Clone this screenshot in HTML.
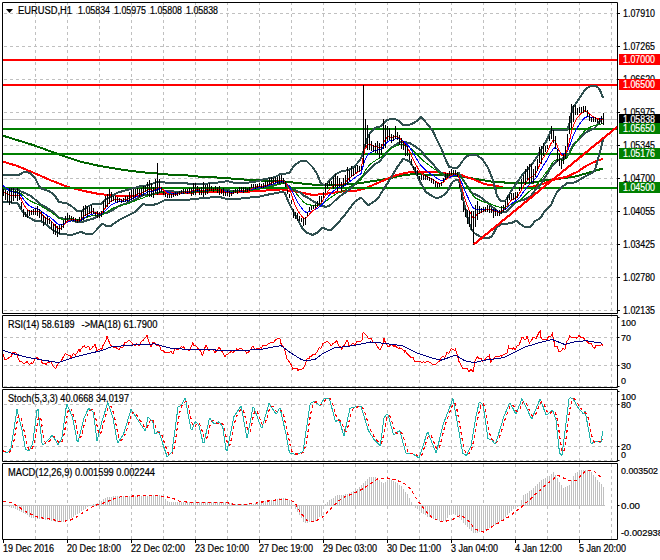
<!DOCTYPE html><html><head><meta charset="utf-8"><style>html,body{margin:0;padding:0;background:#fff;overflow:hidden}svg{display:block}</style></head><body><svg width="660" height="560" viewBox="0 0 660 560" font-family="'Liberation Sans', sans-serif">
<rect width="660" height="560" fill="#fff"/>
<path d="M35.5,2V539 M67.5,2V539 M99.5,2V539 M131.5,2V539 M163.5,2V539 M195.5,2V539 M227.5,2V539 M259.5,2V539 M291.5,2V539 M323.5,2V539 M355.5,2V539 M387.5,2V539 M419.5,2V539 M451.5,2V539 M483.5,2V539 M515.5,2V539 M547.5,2V539 M579.5,2V539 M611.5,2V539 M4,13.5H617 M4,46.5H617 M4,79.5H617 M4,112.5H617 M4,145.5H617 M4,178.5H617 M4,211.5H617 M4,244.5H617 M4,277.5H617 M4,310.5H617 M4,337.5H617 M4,365.5H617 M4,386.5H617 M4,404.5H617 M4,446.5H617 M4,460.5H617" stroke="#c0c0c0" stroke-width="1" stroke-dasharray="3 3" fill="none"/>
<g clip-path="url(#cm)">
<defs><clipPath id="cm"><rect x="3" y="3" width="614" height="310"/></clipPath><clipPath id="c1"><rect x="3" y="316" width="614" height="71"/></clipPath><clipPath id="c2"><rect x="3" y="390" width="614" height="71"/></clipPath><clipPath id="c3"><rect x="3" y="464" width="614" height="75"/></clipPath></defs>
<line x1="3" y1="119.5" x2="617" y2="119.5" stroke="#c0c0c0" stroke-width="1"/>
<polyline points="3.0,135.7 33.0,145.0 59.0,154.4 79.0,161.3 98.0,165.6 123.5,170.0 143.0,172.3 160.0,173.8 175.0,175.2 185.0,175.2 200.0,176.7 215.0,177.4 231.0,178.5 246.0,179.7 261.0,180.5 284.0,181.4 297.0,183.0 313.0,184.6 345.0,184.6 355.0,183.8 371.0,181.4 387.0,178.9 400.0,175.7 413.0,174.1 438.0,175.0 455.0,175.7 474.0,178.6 495.0,182.1 516.0,183.0 531.0,183.0 545.0,180.4 557.0,179.0 575.0,176.5 589.0,172.7 603.0,168.5" fill="none" stroke="#006400" stroke-width="2" shape-rendering="crispEdges"/>
<polyline points="3.0,161.7 17.0,165.8 33.0,172.5 50.0,180.0 67.0,186.7 83.0,190.8 100.0,194.2 120.0,195.8 136.0,195.8 151.0,194.5 166.0,193.5 185.0,192.6 215.0,192.3 246.0,191.8 261.0,190.8 270.0,190.3 281.0,189.4 297.0,191.8 313.0,195.0 329.0,193.4 345.0,191.0 355.0,191.0 365.0,188.6 374.0,184.6 387.0,178.9 397.0,174.9 408.0,172.5 420.0,171.8 438.0,172.3 446.0,173.5 461.0,175.0 474.0,179.5 484.0,183.9 499.0,186.6 506.0,188.4 516.0,188.4 527.0,187.5 538.0,185.7 548.0,182.0 556.0,179.0 567.0,176.8 578.0,171.4 586.0,166.0 594.0,162.0 603.0,158.7" fill="none" stroke="#ff0000" stroke-width="2" shape-rendering="crispEdges"/>
<rect x="3" y="59.0" width="614" height="2" fill="#ff0000"/>
<rect x="3" y="84.0" width="614" height="2" fill="#ff0000"/>
<rect x="3" y="128.0" width="614" height="2" fill="#008000"/>
<rect x="3" y="153.0" width="614" height="2" fill="#008000"/>
<rect x="3" y="187.0" width="614" height="2" fill="#008000"/>
<polyline points="3.0,175.3 5.0,175.2 7.0,175.2 9.0,175.1 11.0,175.0 13.0,174.9 15.0,174.9 17.0,174.8 19.0,174.7 21.0,173.7 23.0,172.4 25.0,171.9 27.0,172.3 29.0,172.6 31.0,173.7 33.0,175.9 35.0,178.1 37.0,181.9 39.0,186.0 41.0,188.3 43.0,189.0 45.0,189.7 47.0,190.4 49.0,191.1 51.0,192.4 53.0,193.9 55.0,196.0 57.0,199.0 59.0,202.0 61.0,202.4 63.0,202.7 65.0,203.1 67.0,203.6 69.0,204.7 71.0,205.7 73.0,207.4 75.0,209.2 77.0,210.9 79.0,211.2 81.0,211.2 83.0,210.4 85.0,208.7 87.0,207.0 89.0,206.0 91.0,204.9 93.0,203.9 95.0,204.1 97.0,204.2 99.0,204.4 101.0,203.9 103.0,202.0 105.0,200.2 107.0,198.9 109.0,197.7 111.0,196.5 113.0,195.3 115.0,194.1 117.0,192.9 119.0,192.2 121.0,191.7 123.0,191.1 125.0,190.5 127.0,190.0 129.0,189.4 131.0,188.9 133.0,188.3 135.0,187.7 137.0,187.2 139.0,186.6 141.0,186.3 143.0,186.0 145.0,185.6 147.0,185.3 149.0,184.8 151.0,184.1 153.0,183.4 155.0,182.7 157.0,182.1 159.0,182.2 161.0,182.3 163.0,182.4 165.0,182.5 167.0,182.6 169.0,182.7 171.0,182.7 173.0,182.8 175.0,182.8 177.0,182.8 179.0,182.9 181.0,182.9 183.0,183.0 185.0,183.0 187.0,183.4 189.0,183.8 191.0,184.2 193.0,184.2 195.0,184.2 197.0,184.2 199.0,184.2 201.0,184.1 203.0,184.0 205.0,183.8 207.0,183.6 209.0,183.4 211.0,183.2 213.0,183.0 215.0,182.8 217.0,182.6 219.0,182.3 221.0,182.1 223.0,181.8 225.0,181.5 227.0,181.3 229.0,181.5 231.0,182.0 233.0,182.5 235.0,182.7 237.0,182.8 239.0,182.8 241.0,182.9 243.0,182.9 245.0,183.0 247.0,182.8 249.0,182.5 251.0,182.1 253.0,181.8 255.0,181.6 257.0,181.3 259.0,180.9 261.0,180.2 263.0,179.6 265.0,179.0 267.0,178.6 269.0,178.3 271.0,177.9 273.0,177.6 275.0,177.1 277.0,176.0 279.0,174.9 281.0,173.8 283.0,173.7 285.0,173.6 287.0,173.4 289.0,173.3 291.0,170.4 293.0,167.4 295.0,165.1 297.0,163.6 299.0,162.0 301.0,160.9 303.0,161.1 305.0,161.2 307.0,161.5 309.0,163.5 311.0,165.5 313.0,167.5 315.0,170.7 317.0,174.0 319.0,178.4 321.0,183.8 323.0,184.6 325.0,184.6 327.0,183.6 329.0,181.2 331.0,178.9 333.0,176.9 335.0,174.8 337.0,173.5 339.0,172.5 341.0,171.5 343.0,170.8 345.0,170.6 347.0,170.3 349.0,169.8 351.0,168.6 353.0,167.3 355.0,166.0 357.0,163.5 359.0,161.0 361.0,158.5 363.0,152.6 365.0,145.9 367.0,139.1 369.0,134.7 371.0,132.2 373.0,129.6 375.0,127.8 377.0,127.3 379.0,126.8 381.0,126.1 383.0,124.1 385.0,122.2 387.0,120.2 389.0,119.5 391.0,119.1 393.0,118.6 395.0,119.1 397.0,120.1 399.0,121.1 401.0,122.6 403.0,124.6 405.0,124.8 407.0,124.8 409.0,124.8 411.0,124.1 413.0,123.2 415.0,122.2 417.0,120.8 419.0,118.9 421.0,117.2 423.0,119.2 425.0,121.3 427.0,123.6 429.0,126.1 431.0,128.5 433.0,131.5 435.0,135.7 437.0,139.9 439.0,144.0 441.0,148.0 443.0,152.8 445.0,158.2 447.0,162.4 449.0,166.7 451.0,167.4 453.0,167.6 455.0,167.7 457.0,167.8 459.0,166.2 461.0,163.2 463.0,160.5 465.0,158.3 467.0,156.1 469.0,155.4 471.0,155.3 473.0,155.2 475.0,155.1 477.0,155.5 479.0,156.8 481.0,158.0 483.0,160.4 485.0,163.2 487.0,166.1 489.0,170.2 491.0,175.0 493.0,180.6 495.0,187.3 497.0,195.7 499.0,199.0 501.0,200.7 503.0,200.7 505.0,200.7 507.0,198.3 509.0,194.7 511.0,191.4 513.0,188.4 515.0,185.5 517.0,182.5 519.0,179.6 521.0,176.7 523.0,174.0 525.0,171.8 527.0,169.7 529.0,167.5 531.0,165.0 533.0,162.6 535.0,159.9 537.0,156.7 539.0,153.5 541.0,150.1 543.0,146.7 545.0,143.2 547.0,139.6 549.0,135.4 551.0,130.0 553.0,130.0 555.0,130.0 557.0,130.0 559.0,130.0 561.0,130.0 563.0,130.0 565.0,130.0 567.0,130.0 569.0,125.5 571.0,115.0 573.0,107.0 575.0,104.5 577.0,101.9 579.0,98.9 581.0,95.9 583.0,92.8 585.0,90.1 587.0,88.1 589.0,87.0 591.0,86.2 593.0,85.9 595.0,85.8 597.0,86.6 599.0,88.5 601.0,92.3 603.0,97.8" fill="none" stroke="#2f4f4f" stroke-width="2" shape-rendering="crispEdges"/>
<polyline points="3.0,202.0 5.0,202.1 7.0,202.3 9.0,202.4 11.0,202.5 13.0,202.7 15.0,202.9 17.0,203.1 19.0,205.3 21.0,209.4 23.0,212.2 25.0,214.1 27.0,216.1 29.0,217.6 31.0,218.6 33.0,219.7 35.0,220.7 37.0,220.5 39.0,220.6 41.0,221.6 43.0,222.6 45.0,223.7 47.0,225.3 49.0,227.0 51.0,228.6 53.0,230.2 55.0,231.6 57.0,232.6 59.0,233.6 61.0,234.2 63.0,234.3 65.0,234.4 67.0,234.5 69.0,234.6 71.0,234.7 73.0,234.6 75.0,233.9 77.0,233.2 79.0,232.5 81.0,231.8 83.0,232.8 85.0,233.6 87.0,233.6 89.0,233.6 91.0,233.6 93.0,233.6 95.0,231.5 97.0,229.4 99.0,227.2 101.0,225.1 103.0,223.6 105.0,225.2 107.0,226.4 109.0,226.4 111.0,225.7 113.0,224.2 115.0,222.8 117.0,221.4 119.0,220.0 121.0,219.0 123.0,218.0 125.0,217.0 127.0,216.0 129.0,215.0 131.0,214.0 133.0,213.0 135.0,212.0 137.0,210.3 139.0,208.3 141.0,206.2 143.0,204.2 145.0,204.5 147.0,205.0 149.0,205.5 151.0,205.2 153.0,204.8 155.0,204.4 157.0,203.9 159.0,202.9 161.0,201.9 163.0,200.9 165.0,199.9 167.0,199.6 169.0,199.8 171.0,199.9 173.0,200.1 175.0,200.3 177.0,200.3 179.0,200.3 181.0,200.2 183.0,200.2 185.0,200.2 187.0,199.9 189.0,199.7 191.0,199.4 193.0,199.2 195.0,198.9 197.0,198.6 199.0,198.5 201.0,198.3 203.0,198.1 205.0,198.0 207.0,197.8 209.0,197.6 211.0,197.4 213.0,197.1 215.0,196.9 217.0,196.6 219.0,196.6 221.0,197.3 223.0,198.1 225.0,198.6 227.0,198.8 229.0,199.0 231.0,199.2 233.0,199.3 235.0,199.2 237.0,199.0 239.0,198.7 241.0,198.5 243.0,198.2 245.0,198.0 247.0,197.8 249.0,197.6 251.0,197.4 253.0,197.2 255.0,197.0 257.0,196.8 259.0,196.6 261.0,196.4 263.0,195.9 265.0,195.3 267.0,194.8 269.0,194.4 271.0,194.1 273.0,193.7 275.0,193.3 277.0,192.9 279.0,192.5 281.0,192.1 283.0,191.8 285.0,193.2 287.0,198.2 289.0,203.0 291.0,207.0 293.0,211.0 295.0,214.7 297.0,218.2 299.0,221.8 301.0,225.8 303.0,229.2 305.0,231.2 307.0,232.8 309.0,233.6 311.0,234.4 313.0,234.8 315.0,233.8 317.0,232.8 319.0,231.0 321.0,229.0 323.0,227.7 325.0,228.7 327.0,229.6 329.0,230.5 331.0,230.1 333.0,228.2 335.0,226.3 337.0,224.1 339.0,221.8 341.0,219.4 343.0,217.1 345.0,214.8 347.0,212.1 349.0,209.5 351.0,206.8 353.0,204.1 355.0,201.4 357.0,200.2 359.0,198.9 361.0,197.7 363.0,199.4 365.0,201.9 367.0,204.4 369.0,204.8 371.0,203.5 373.0,202.2 375.0,200.7 377.0,198.7 379.0,196.7 381.0,193.4 383.0,190.1 385.0,187.0 387.0,184.0 389.0,181.0 391.0,177.8 393.0,174.3 395.0,170.8 397.0,167.4 399.0,164.6 401.0,161.9 403.0,159.1 405.0,159.5 407.0,160.3 409.0,161.0 411.0,163.5 413.0,166.8 415.0,170.5 417.0,175.1 419.0,179.8 421.0,183.5 423.0,187.0 425.0,190.6 427.0,192.7 429.0,194.0 431.0,195.3 433.0,196.4 435.0,197.6 437.0,198.2 439.0,197.6 441.0,197.0 443.0,195.6 445.0,193.6 447.0,191.6 449.0,188.6 451.0,184.2 453.0,181.5 455.0,180.5 457.0,179.4 459.0,180.5 461.0,189.8 463.0,199.0 465.0,207.4 467.0,215.7 469.0,222.2 471.0,228.7 473.0,231.6 475.0,233.4 477.0,234.7 479.0,235.9 481.0,236.9 483.0,237.9 485.0,238.5 487.0,238.0 489.0,237.6 491.0,237.2 493.0,234.2 495.0,230.6 497.0,227.0 499.0,225.8 501.0,224.5 503.0,224.1 505.0,223.8 507.0,223.6 509.0,223.4 511.0,223.2 513.0,222.2 515.0,221.2 517.0,221.0 519.0,222.8 521.0,224.5 523.0,226.3 525.0,226.8 527.0,226.8 529.0,226.8 531.0,226.4 533.0,223.7 535.0,221.0 537.0,220.0 539.0,219.0 541.0,217.3 543.0,213.9 545.0,211.0 547.0,209.0 549.0,206.9 551.0,204.9 553.0,200.4 555.0,195.9 557.0,192.2 559.0,190.2 561.0,188.3 563.0,186.4 565.0,184.7 567.0,182.9 569.0,182.8 571.0,182.8 573.0,182.8 575.0,182.2 577.0,181.2 579.0,180.2 581.0,179.0 583.0,177.7 585.0,176.5 587.0,175.5 589.0,174.5 591.0,173.5 593.0,172.3 595.0,170.1 597.0,162.8 599.0,154.9 601.0,148.9 603.0,139.1" fill="none" stroke="#2f4f4f" stroke-width="2" shape-rendering="crispEdges"/>
<polyline points="3.0,188.7 5.0,188.7 7.0,188.7 9.0,188.7 11.0,188.8 13.0,188.8 15.0,188.9 17.0,188.9 19.0,190.0 21.0,191.5 23.0,192.3 25.0,193.0 27.0,194.2 29.0,195.1 31.0,196.1 33.0,197.8 35.0,199.4 37.0,201.2 39.0,203.3 41.0,204.9 43.0,205.8 45.0,206.7 47.0,207.9 49.0,209.0 51.0,210.5 53.0,212.1 55.0,213.8 57.0,215.8 59.0,217.8 61.0,218.3 63.0,218.5 65.0,218.8 67.0,219.1 69.0,219.6 71.0,220.2 73.0,221.0 75.0,221.5 77.0,222.1 79.0,221.8 81.0,221.5 83.0,221.6 85.0,221.2 87.0,220.3 89.0,219.8 91.0,219.3 93.0,218.8 95.0,217.8 97.0,216.8 99.0,215.8 101.0,214.5 103.0,212.8 105.0,212.7 107.0,212.7 109.0,212.1 111.0,211.1 113.0,209.8 115.0,208.5 117.0,207.2 119.0,206.1 121.0,205.3 123.0,204.5 125.0,203.8 127.0,203.0 129.0,202.2 131.0,201.4 133.0,200.6 135.0,199.9 137.0,198.7 139.0,197.4 141.0,196.3 143.0,195.1 145.0,195.1 147.0,195.2 149.0,195.2 151.0,194.6 153.0,194.1 155.0,193.5 157.0,193.0 159.0,192.6 161.0,192.1 163.0,191.7 165.0,191.2 167.0,191.1 169.0,191.2 171.0,191.3 173.0,191.4 175.0,191.6 177.0,191.6 179.0,191.6 181.0,191.6 183.0,191.6 185.0,191.6 187.0,191.7 189.0,191.7 191.0,191.8 193.0,191.7 195.0,191.5 197.0,191.4 199.0,191.3 201.0,191.2 203.0,191.0 205.0,190.9 207.0,190.7 209.0,190.5 211.0,190.3 213.0,190.0 215.0,189.8 217.0,189.6 219.0,189.5 221.0,189.7 223.0,189.9 225.0,190.1 227.0,190.0 229.0,190.3 231.0,190.6 233.0,190.9 235.0,191.0 237.0,190.9 239.0,190.8 241.0,190.7 243.0,190.6 245.0,190.5 247.0,190.3 249.0,190.0 251.0,189.8 253.0,189.5 255.0,189.3 257.0,189.1 259.0,188.7 261.0,188.3 263.0,187.7 265.0,187.2 267.0,186.7 269.0,186.4 271.0,186.0 273.0,185.6 275.0,185.2 277.0,184.5 279.0,183.7 281.0,183.0 283.0,182.7 285.0,183.4 287.0,185.8 289.0,188.2 291.0,188.7 293.0,189.2 295.0,189.9 297.0,190.9 299.0,191.9 301.0,193.3 303.0,195.2 305.0,196.2 307.0,197.2 309.0,198.6 311.0,199.9 313.0,201.1 315.0,202.2 317.0,203.4 319.0,204.7 321.0,206.4 323.0,206.2 325.0,206.6 327.0,206.6 329.0,205.9 331.0,204.5 333.0,202.5 335.0,200.5 337.0,198.8 339.0,197.1 341.0,195.5 343.0,193.9 345.0,192.7 347.0,191.2 349.0,189.7 351.0,187.7 353.0,185.7 355.0,183.7 357.0,181.8 359.0,179.9 361.0,178.1 363.0,176.0 365.0,173.9 367.0,171.8 369.0,169.8 371.0,167.8 373.0,165.9 375.0,164.3 377.0,163.0 379.0,161.8 381.0,159.8 383.0,157.1 385.0,154.6 387.0,152.1 389.0,150.3 391.0,148.4 393.0,146.4 395.0,145.0 397.0,143.8 399.0,142.9 401.0,142.2 403.0,141.8 405.0,142.1 407.0,142.5 409.0,142.9 411.0,143.8 413.0,145.0 415.0,146.3 417.0,147.9 419.0,149.3 421.0,150.4 423.0,153.1 425.0,155.9 427.0,158.1 429.0,160.1 431.0,161.9 433.0,163.9 435.0,166.6 437.0,169.1 439.0,170.8 441.0,172.5 443.0,174.2 445.0,175.9 447.0,177.0 449.0,177.6 451.0,175.8 453.0,174.5 455.0,174.1 457.0,173.6 459.0,173.3 461.0,176.5 463.0,179.8 465.0,182.8 467.0,185.9 469.0,188.8 471.0,192.0 473.0,193.4 475.0,194.2 477.0,195.1 479.0,196.3 481.0,197.4 483.0,199.2 485.0,200.8 487.0,202.1 489.0,203.9 491.0,206.1 493.0,207.4 495.0,208.9 497.0,211.3 499.0,212.4 501.0,212.6 503.0,212.4 505.0,212.3 507.0,211.0 509.0,209.1 511.0,207.3 513.0,205.3 515.0,203.3 517.0,201.8 519.0,201.2 521.0,200.6 523.0,200.1 525.0,199.3 527.0,198.2 529.0,197.2 531.0,195.7 533.0,193.1 535.0,190.4 537.0,188.3 539.0,186.2 541.0,183.7 543.0,180.3 545.0,177.1 547.0,174.3 549.0,171.1 551.0,167.4 553.0,165.2 555.0,163.0 557.0,161.1 559.0,160.1 561.0,159.1 563.0,158.2 565.0,157.3 567.0,156.4 569.0,154.1 571.0,148.9 573.0,144.9 575.0,143.3 577.0,141.5 579.0,139.5 581.0,137.4 583.0,135.3 585.0,133.3 587.0,131.8 589.0,130.7 591.0,129.9 593.0,129.1 595.0,127.9 597.0,124.7 599.0,121.7 601.0,120.6 603.0,118.4" fill="none" stroke="#2f4f4f" stroke-width="2" shape-rendering="crispEdges"/>
<polyline points="3.0,188.5 5.0,189.1 7.0,189.7 9.0,190.5 11.0,191.0 13.0,191.4 15.0,191.7 17.0,192.0 19.0,192.4 21.0,193.6 23.0,195.3 25.0,197.1 27.0,198.7 29.0,200.1 31.0,201.3 33.0,202.3 35.0,203.2 37.0,203.9 39.0,204.8 41.0,205.9 43.0,207.3 45.0,208.6 47.0,209.7 49.0,210.9 51.0,212.1 53.0,213.6 55.0,215.2 57.0,216.8 59.0,218.0 61.0,218.9 63.0,219.3 65.0,219.3 67.0,219.1 69.0,218.9 71.0,218.9 73.0,219.0 75.0,219.1 77.0,219.2 79.0,219.3 81.0,219.1 83.0,218.5 85.0,217.9 87.0,217.3 89.0,216.7 91.0,216.1 93.0,215.6 95.0,215.4 97.0,215.4 99.0,215.4 101.0,215.1 103.0,214.3 105.0,213.2 107.0,211.9 109.0,210.6 111.0,209.3 113.0,208.2 115.0,207.3 117.0,206.6 119.0,206.0 121.0,205.5 123.0,204.9 125.0,204.4 127.0,203.9 129.0,203.2 131.0,202.4 133.0,201.6 135.0,200.8 137.0,200.0 139.0,199.3 141.0,198.6 143.0,197.9 145.0,197.1 147.0,196.2 149.0,195.5 151.0,195.0 153.0,194.6 155.0,194.0 157.0,193.1 159.0,192.3 161.0,192.1 163.0,192.2 165.0,192.5 167.0,192.9 169.0,193.2 171.0,193.4 173.0,193.6 175.0,193.6 177.0,193.6 179.0,193.5 181.0,193.4 183.0,193.3 185.0,193.0 187.0,192.8 189.0,192.6 191.0,192.4 193.0,192.1 195.0,191.8 197.0,191.6 199.0,191.5 201.0,191.5 203.0,191.5 205.0,191.3 207.0,191.1 209.0,190.8 211.0,190.6 213.0,190.5 215.0,190.3 217.0,190.2 219.0,190.2 221.0,190.4 223.0,190.7 225.0,190.9 227.0,191.2 229.0,191.4 231.0,191.7 233.0,191.8 235.0,191.8 237.0,191.7 239.0,191.5 241.0,191.3 243.0,191.2 245.0,191.1 247.0,191.0 249.0,190.9 251.0,190.5 253.0,190.0 255.0,189.6 257.0,189.3 259.0,189.0 261.0,188.7 263.0,188.4 265.0,188.0 267.0,187.6 269.0,187.1 271.0,186.6 273.0,186.0 275.0,185.4 277.0,184.9 279.0,184.4 281.0,183.9 283.0,183.7 285.0,183.7 287.0,184.5 289.0,185.6 291.0,187.1 293.0,189.5 295.0,192.0 297.0,194.5 299.0,196.8 301.0,199.1 303.0,201.4 305.0,203.2 307.0,204.2 309.0,204.7 311.0,205.1 313.0,205.3 315.0,205.3 317.0,205.2 319.0,204.7 321.0,204.1 323.0,203.2 325.0,201.8 327.0,200.3 329.0,198.7 331.0,197.3 333.0,195.9 335.0,194.6 337.0,193.5 339.0,192.6 341.0,191.9 343.0,191.2 345.0,190.1 347.0,188.8 349.0,187.4 351.0,186.1 353.0,184.8 355.0,183.5 357.0,182.2 359.0,180.9 361.0,179.7 363.0,175.4 365.0,171.2 367.0,168.0 369.0,165.6 371.0,163.7 373.0,162.2 375.0,160.8 377.0,159.4 379.0,158.5 381.0,157.6 383.0,155.5 385.0,153.3 387.0,151.3 389.0,149.7 391.0,148.7 393.0,147.7 395.0,146.4 397.0,145.4 399.0,144.9 401.0,144.8 403.0,144.9 405.0,145.4 407.0,146.1 409.0,147.1 411.0,148.5 413.0,150.4 415.0,152.4 417.0,154.4 419.0,156.6 421.0,158.6 423.0,160.5 425.0,162.1 427.0,163.6 429.0,165.1 431.0,166.6 433.0,168.0 435.0,169.5 437.0,171.0 439.0,172.4 441.0,173.4 443.0,174.1 445.0,174.3 447.0,174.3 449.0,174.2 451.0,174.1 453.0,173.9 455.0,173.8 457.0,173.9 459.0,175.1 461.0,177.2 463.0,180.1 465.0,183.2 467.0,186.4 469.0,189.5 471.0,192.7 473.0,195.7 475.0,197.7 477.0,198.7 479.0,199.8 481.0,200.8 483.0,201.6 485.0,202.3 487.0,202.9 489.0,203.5 491.0,204.2 493.0,205.0 495.0,205.8 497.0,206.5 499.0,207.0 501.0,207.3 503.0,207.3 505.0,207.1 507.0,206.5 509.0,205.6 511.0,204.7 513.0,203.9 515.0,203.1 517.0,202.2 519.0,201.0 521.0,199.4 523.0,197.5 525.0,195.5 527.0,193.5 529.0,191.7 531.0,190.1 533.0,188.6 535.0,186.9 537.0,184.7 539.0,182.1 541.0,179.4 543.0,176.7 545.0,174.0 547.0,171.4 549.0,168.3 551.0,165.1 553.0,162.2 555.0,160.3 557.0,159.6 559.0,159.7 561.0,160.0 563.0,160.0 565.0,159.2 567.0,157.6 569.0,154.8 571.0,151.1 573.0,147.4 575.0,144.0 577.0,140.9 579.0,138.0 581.0,135.3 583.0,132.7 585.0,130.4 587.0,128.8 589.0,127.7 591.0,126.8 593.0,126.1 595.0,125.5 597.0,125.0 599.0,124.6 601.0,124.1 603.0,123.6" fill="none" stroke="#008000" stroke-width="1" shape-rendering="crispEdges"/>
<polyline points="3.0,185.5 5.0,187.1 7.0,188.7 9.0,190.4 11.0,191.5 13.0,192.0 15.0,192.5 17.0,192.9 19.0,193.5 21.0,195.6 23.0,198.6 25.0,201.3 27.0,203.6 29.0,205.4 31.0,206.8 33.0,207.7 35.0,208.3 37.0,208.8 39.0,209.6 41.0,210.9 43.0,212.6 45.0,214.1 47.0,215.3 49.0,216.4 51.0,217.9 53.0,219.6 55.0,221.5 57.0,223.4 59.0,224.7 61.0,225.0 63.0,224.6 65.0,223.7 67.0,222.5 69.0,221.5 71.0,221.0 73.0,220.8 75.0,220.7 77.0,220.7 79.0,220.5 81.0,219.9 83.0,218.7 85.0,217.4 87.0,216.4 89.0,215.4 91.0,214.5 93.0,213.9 95.0,213.9 97.0,214.0 99.0,214.3 101.0,214.0 103.0,212.7 105.0,210.9 107.0,208.8 109.0,206.8 111.0,205.0 113.0,203.8 115.0,202.9 117.0,202.3 119.0,201.9 121.0,201.7 123.0,201.4 125.0,201.0 127.0,200.6 129.0,199.9 131.0,198.9 133.0,198.1 135.0,197.2 137.0,196.4 139.0,195.7 141.0,195.0 143.0,194.2 145.0,193.4 147.0,192.4 149.0,191.7 151.0,191.4 153.0,191.3 155.0,190.9 157.0,189.6 159.0,188.8 161.0,189.0 163.0,189.8 165.0,190.8 167.0,191.8 169.0,192.6 171.0,193.1 173.0,193.5 175.0,193.6 177.0,193.6 179.0,193.5 181.0,193.2 183.0,193.0 185.0,192.6 187.0,192.3 189.0,192.0 191.0,191.7 193.0,191.3 195.0,190.9 197.0,190.6 199.0,190.6 201.0,190.8 203.0,190.9 205.0,190.7 207.0,190.3 209.0,189.9 211.0,189.7 213.0,189.7 215.0,189.5 217.0,189.5 219.0,189.6 221.0,190.0 223.0,190.6 225.0,191.1 227.0,191.6 229.0,192.0 231.0,192.3 233.0,192.4 235.0,192.3 237.0,192.0 239.0,191.5 241.0,191.2 243.0,191.0 245.0,190.9 247.0,190.8 249.0,190.5 251.0,189.8 253.0,189.1 255.0,188.5 257.0,188.1 259.0,187.7 261.0,187.4 263.0,187.0 265.0,186.6 267.0,186.0 269.0,185.4 271.0,184.7 273.0,183.9 275.0,183.2 277.0,182.6 279.0,182.1 281.0,181.6 283.0,181.5 285.0,182.0 287.0,183.9 289.0,186.0 291.0,188.9 293.0,193.1 295.0,197.2 297.0,201.0 299.0,204.3 301.0,207.2 303.0,210.1 305.0,211.9 307.0,212.3 309.0,211.9 311.0,211.3 313.0,210.5 315.0,209.6 317.0,208.6 319.0,207.1 321.0,205.5 323.0,203.5 325.0,200.7 327.0,198.0 329.0,195.5 331.0,193.3 333.0,191.5 335.0,189.8 337.0,188.5 339.0,187.7 341.0,187.2 343.0,186.7 345.0,185.5 347.0,183.8 349.0,182.2 351.0,180.6 353.0,179.1 355.0,177.6 357.0,176.2 359.0,174.9 361.0,173.6 363.0,166.5 365.0,160.1 367.0,156.0 369.0,153.6 371.0,152.3 373.0,151.4 375.0,150.6 377.0,149.9 379.0,149.8 381.0,149.8 383.0,147.2 385.0,144.5 387.0,142.3 389.0,140.9 391.0,140.5 393.0,140.2 395.0,139.0 397.0,138.4 399.0,138.7 401.0,139.6 403.0,140.9 405.0,142.5 407.0,144.3 409.0,146.6 411.0,149.4 413.0,152.8 415.0,156.1 417.0,159.4 419.0,162.7 421.0,165.4 423.0,167.7 425.0,169.5 427.0,171.1 429.0,172.6 431.0,174.0 433.0,175.4 435.0,176.9 437.0,178.5 439.0,179.6 441.0,180.3 443.0,180.3 445.0,179.6 447.0,178.7 449.0,177.7 451.0,176.8 453.0,176.0 455.0,175.4 457.0,175.3 459.0,177.3 461.0,181.0 463.0,185.8 465.0,190.6 467.0,195.4 469.0,199.8 471.0,204.0 473.0,207.6 475.0,209.2 477.0,209.2 479.0,209.3 481.0,209.5 483.0,209.5 485.0,209.4 487.0,209.2 489.0,209.1 491.0,209.4 493.0,210.1 495.0,210.7 497.0,211.0 499.0,211.2 501.0,211.0 503.0,210.4 505.0,209.4 507.0,207.8 509.0,205.9 511.0,204.1 513.0,202.6 515.0,201.4 517.0,200.0 519.0,198.0 521.0,195.6 523.0,192.6 525.0,189.7 527.0,187.0 529.0,184.8 531.0,183.0 533.0,181.3 535.0,179.3 537.0,176.6 539.0,173.2 541.0,169.6 543.0,166.1 545.0,163.0 547.0,160.1 549.0,156.2 551.0,152.3 553.0,149.1 555.0,147.7 557.0,148.8 559.0,150.9 561.0,153.1 563.0,154.3 565.0,153.8 567.0,151.8 569.0,147.4 571.0,141.7 573.0,136.4 575.0,131.9 577.0,128.2 579.0,124.9 581.0,122.1 583.0,119.6 585.0,117.6 587.0,116.8 589.0,116.9 591.0,117.2 593.0,117.6 595.0,118.0 597.0,118.4 599.0,118.8 601.0,119.0 603.0,119.0" fill="none" stroke="#0000ff" stroke-width="1" shape-rendering="crispEdges"/>
<polyline points="3.0,192.2 5.0,192.9 7.0,194.0 9.0,195.2 11.0,195.6 13.0,195.3 15.0,195.1 17.0,195.0 19.0,195.4 21.0,198.6 23.0,203.0 25.0,206.6 27.0,209.0 29.0,210.6 31.0,211.4 33.0,211.6 35.0,211.3 37.0,211.3 39.0,211.9 41.0,213.5 43.0,215.7 45.0,217.4 47.0,218.5 49.0,219.5 51.0,221.2 53.0,223.1 55.0,225.5 57.0,227.6 59.0,228.5 61.0,227.9 63.0,226.3 65.0,224.1 67.0,221.6 69.0,220.2 71.0,219.7 73.0,219.7 75.0,219.9 77.0,220.2 79.0,220.1 81.0,219.1 83.0,217.1 85.0,215.4 87.0,214.1 89.0,213.1 91.0,212.1 93.0,211.9 95.0,212.5 97.0,213.2 99.0,214.0 101.0,213.5 103.0,211.3 105.0,208.5 107.0,205.5 109.0,202.8 111.0,201.0 113.0,200.0 115.0,199.7 117.0,199.6 119.0,199.8 121.0,200.0 123.0,200.0 125.0,199.9 127.0,199.5 129.0,198.5 131.0,197.3 133.0,196.2 135.0,195.2 137.0,194.4 139.0,193.8 141.0,193.2 143.0,192.4 145.0,191.4 147.0,190.3 149.0,189.8 151.0,189.8 153.0,190.2 155.0,189.7 157.0,187.8 159.0,186.9 161.0,188.0 163.0,189.7 165.0,191.6 167.0,193.2 169.0,194.2 171.0,194.6 173.0,194.7 175.0,194.6 177.0,194.2 179.0,193.8 181.0,193.3 183.0,192.7 185.0,192.2 187.0,191.7 189.0,191.4 191.0,191.0 193.0,190.5 195.0,190.0 197.0,189.8 199.0,190.0 201.0,190.6 203.0,190.9 205.0,190.4 207.0,189.8 209.0,189.3 211.0,189.2 213.0,189.2 215.0,189.1 217.0,189.2 219.0,189.5 221.0,190.2 223.0,191.3 225.0,192.0 227.0,192.6 229.0,193.0 231.0,193.3 233.0,193.1 235.0,192.6 237.0,192.0 239.0,191.2 241.0,190.6 243.0,190.4 245.0,190.4 247.0,190.4 249.0,190.1 251.0,189.0 253.0,187.9 255.0,187.2 257.0,186.8 259.0,186.6 261.0,186.4 263.0,186.1 265.0,185.6 267.0,184.9 269.0,184.1 271.0,183.2 273.0,182.3 275.0,181.5 277.0,181.0 279.0,180.5 281.0,180.2 283.0,180.5 285.0,181.8 287.0,185.3 289.0,188.6 291.0,193.1 293.0,199.4 295.0,204.9 297.0,209.2 299.0,212.5 301.0,215.1 303.0,217.8 305.0,218.6 307.0,217.0 309.0,214.7 311.0,212.6 313.0,210.7 315.0,209.1 317.0,207.3 319.0,205.1 321.0,202.8 323.0,200.0 325.0,196.1 327.0,192.7 329.0,189.9 331.0,187.8 333.0,186.2 335.0,184.9 337.0,184.2 339.0,184.1 341.0,184.5 343.0,184.4 345.0,183.0 347.0,180.7 349.0,178.7 351.0,177.0 353.0,175.4 355.0,173.9 357.0,172.6 359.0,171.4 361.0,170.2 363.0,158.3 365.0,149.4 367.0,145.5 369.0,144.6 371.0,145.1 373.0,145.9 375.0,146.3 377.0,146.4 379.0,147.5 381.0,148.1 383.0,143.9 385.0,140.2 387.0,137.5 389.0,136.6 391.0,137.3 393.0,137.7 395.0,136.4 397.0,136.2 399.0,137.4 401.0,139.6 403.0,141.9 405.0,144.5 407.0,147.2 409.0,150.4 411.0,154.3 413.0,158.9 415.0,162.9 417.0,166.6 419.0,170.3 421.0,172.8 423.0,174.4 425.0,175.5 427.0,176.4 429.0,177.4 431.0,178.4 433.0,179.6 435.0,180.9 437.0,182.4 439.0,183.2 441.0,183.3 443.0,182.4 445.0,180.3 447.0,178.4 449.0,176.8 451.0,175.4 453.0,174.4 455.0,173.8 457.0,174.2 459.0,178.3 461.0,184.6 463.0,192.2 465.0,199.0 467.0,204.9 469.0,209.8 471.0,214.3 473.0,217.5 475.0,217.1 477.0,214.3 479.0,212.8 481.0,212.1 483.0,211.2 485.0,210.4 487.0,209.8 489.0,209.5 491.0,209.9 493.0,211.0 495.0,211.7 497.0,212.0 499.0,212.0 501.0,211.3 503.0,210.1 505.0,208.3 507.0,205.9 509.0,202.9 511.0,200.7 513.0,199.1 515.0,198.0 517.0,196.7 519.0,194.1 521.0,190.9 523.0,187.1 525.0,183.5 527.0,180.7 529.0,178.7 531.0,177.4 533.0,176.1 535.0,174.3 537.0,171.1 539.0,166.6 541.0,162.2 543.0,158.3 545.0,155.2 547.0,152.4 549.0,147.9 551.0,143.4 553.0,140.6 555.0,140.9 557.0,145.2 559.0,150.2 561.0,154.5 563.0,156.1 565.0,154.7 567.0,150.6 569.0,143.0 571.0,134.0 573.0,126.8 575.0,121.8 577.0,118.3 579.0,115.7 581.0,113.6 583.0,111.9 585.0,110.8 587.0,111.6 589.0,113.5 591.0,115.2 593.0,116.5 595.0,117.6 597.0,118.5 599.0,119.2 601.0,119.4 603.0,119.2" fill="none" stroke="#ff0000" stroke-width="1" shape-rendering="crispEdges"/>
<path d="M3.5,189V196 M5.5,190V200 M7.5,191V202 M9.5,188V205 M11.5,188V203 M13.5,188V201 M15.5,190V198 M17.5,188V201 M19.5,191V200 M21.5,202V209 M23.5,209V217 M25.5,212V217 M27.5,210V218 M29.5,210V216 M31.5,210V215 M33.5,209V215 M35.5,208V215 M37.5,206V216 M39.5,209V218 M41.5,211V221 M43.5,215V226 M45.5,217V224 M47.5,216V224 M49.5,218V224 M51.5,221V230 M53.5,224V234 M55.5,224V235 M57.5,226V237 M59.5,225V234 M61.5,224V230 M63.5,220V228 M65.5,216V223 M67.5,213V221 M69.5,215V219 M71.5,216V221 M73.5,217V221 M75.5,218V222 M77.5,219V223 M79.5,217V222 M81.5,211V221 M83.5,206V220 M85.5,205V216 M87.5,206V217 M89.5,207V214 M91.5,205V214 M93.5,208V214 M95.5,212V216 M97.5,211V218 M99.5,212V218 M101.5,211V217 M103.5,201V213 M105.5,196V208 M107.5,194V207 M109.5,189V204 M111.5,192V202 M113.5,196V201 M115.5,196V202 M117.5,197V203 M119.5,198V202 M121.5,199V203 M123.5,198V202 M125.5,196V202 M127.5,196V202 M129.5,192V201 M131.5,190V200 M133.5,189V199 M135.5,189V197 M137.5,188V195 M139.5,189V197 M141.5,188V196 M143.5,186V196 M145.5,186V192 M147.5,182V195 M149.5,180V197 M151.5,183V197 M153.5,187V198 M155.5,179V193 M157.5,163V195 M159.5,179V193 M161.5,187V192 M163.5,191V195 M165.5,193V197 M167.5,194V198 M169.5,194V198 M171.5,194V198 M173.5,193V197 M175.5,192V196 M177.5,192V196 M179.5,191V195 M181.5,190V194 M183.5,189V194 M185.5,189V193 M187.5,189V194 M189.5,188V193 M191.5,188V196 M193.5,183V195 M195.5,183V195 M197.5,186V192 M199.5,188V195 M201.5,187V195 M203.5,182V197 M205.5,185V195 M207.5,184V194 M209.5,183V191 M211.5,186V191 M213.5,188V192 M215.5,186V190 M217.5,187V193 M219.5,186V195 M221.5,189V194 M223.5,188V196 M225.5,192V196 M227.5,190V196 M229.5,191V197 M231.5,192V196 M233.5,190V194 M235.5,189V193 M237.5,189V194 M239.5,187V192 M241.5,187V192 M243.5,187V193 M245.5,187V192 M247.5,188V192 M249.5,187V191 M251.5,184V188 M253.5,184V188 M255.5,184V189 M257.5,184V188 M259.5,183V187 M261.5,184V188 M263.5,183V188 M265.5,181V187 M267.5,181V186 M269.5,178V185 M271.5,177V185 M273.5,178V184 M275.5,177V183 M277.5,177V184 M279.5,176V184 M281.5,175V183 M283.5,178V184 M285.5,181V187 M287.5,190V194 M289.5,194V198 M291.5,200V204 M293.5,209V218 M295.5,212V219 M297.5,213V221 M299.5,216V221 M301.5,218V222 M303.5,218V226 M305.5,217V225 M307.5,212V216 M309.5,207V211 M311.5,206V210 M313.5,205V209 M315.5,204V208 M317.5,201V207 M319.5,196V205 M321.5,196V202 M323.5,192V198 M325.5,183V193 M327.5,183V189 M329.5,181V186 M331.5,181V186 M333.5,177V189 M335.5,174V187 M337.5,176V191 M339.5,178V187 M341.5,182V191 M343.5,178V187 M345.5,175V185 M347.5,167V185 M349.5,170V181 M351.5,166V177 M353.5,168V176 M355.5,166V174 M357.5,165V172 M359.5,166V172 M361.5,166V170 M363.5,85V165 M365.5,119V147 M367.5,125V150 M369.5,134V150 M371.5,141V151 M373.5,145V152 M375.5,143V153 M377.5,141V154 M379.5,143V158 M381.5,144V155 M383.5,119V149 M385.5,125V148 M387.5,126V141 M389.5,128V140 M391.5,134V143 M393.5,135V141 M395.5,126V139 M397.5,132V140 M399.5,135V145 M401.5,138V149 M403.5,141V150 M405.5,144V156 M407.5,146V156 M409.5,154V160 M411.5,159V165 M413.5,166V170 M415.5,167V174 M417.5,170V176 M419.5,176V180 M421.5,175V180 M423.5,175V180 M425.5,175V180 M427.5,176V180 M429.5,177V181 M431.5,178V183 M433.5,179V184 M435.5,181V187 M437.5,183V188 M439.5,183V187 M441.5,182V186 M443.5,178V182 M445.5,173V180 M447.5,173V178 M449.5,171V176 M451.5,169V175 M453.5,170V175 M455.5,170V175 M457.5,172V177 M459.5,184V188 M461.5,194V200 M463.5,202V212 M465.5,208V217 M467.5,210V224 M469.5,211V227 M471.5,211V230 M473.5,211V245 M475.5,205V227 M477.5,201V220 M479.5,206V214 M481.5,208V213 M483.5,207V212 M485.5,207V212 M487.5,205V212 M489.5,206V213 M491.5,208V213 M493.5,209V218 M495.5,209V216 M497.5,210V216 M499.5,210V216 M501.5,206V214 M503.5,205V212 M505.5,201V210 M507.5,196V205 M509.5,194V200 M511.5,193V200 M513.5,193V200 M515.5,192V200 M517.5,192V198 M519.5,187V191 M521.5,179V189 M523.5,175V183 M525.5,169V185 M527.5,166V180 M529.5,164V183 M531.5,164V183 M533.5,169V183 M535.5,166V177 M537.5,159V171 M539.5,147V163 M541.5,146V164 M543.5,143V156 M545.5,146V152 M547.5,145V149 M549.5,136V141 M551.5,126V139 M553.5,130V143 M555.5,136V149 M557.5,149V162 M559.5,154V166 M561.5,159V169 M563.5,154V164 M565.5,146V159 M567.5,134V147 M569.5,116V134 M571.5,104V128 M573.5,105V122 M575.5,105V115 M577.5,108V115 M579.5,107V113 M581.5,107V113 M583.5,106V113 M585.5,106V112 M587.5,110V117 M589.5,114V121 M591.5,117V122 M593.5,117V122 M595.5,117V122 M597.5,119V123 M599.5,118V124 M601.5,116V124 M603.5,113V125" stroke="#000" stroke-width="1" fill="none"/>
<line x1="473.6" y1="244.6" x2="617" y2="127" stroke="#ff0000" stroke-width="2.2" shape-rendering="crispEdges"/>
</g>
<path d="M6,9H13L9.5,13Z" fill="#000"/>
<text x="18" y="14" font-size="10" fill="#000" stroke="#000" stroke-width="0.2" text-anchor="start" textLength="54" lengthAdjust="spacingAndGlyphs">EURUSD,H1</text>
<text x="78" y="14" font-size="10" fill="#000" stroke="#000" stroke-width="0.2" text-anchor="start" textLength="32" lengthAdjust="spacingAndGlyphs">1.05834</text>
<text x="114" y="14" font-size="10" fill="#000" stroke="#000" stroke-width="0.2" text-anchor="start" textLength="32" lengthAdjust="spacingAndGlyphs">1.05975</text>
<text x="150" y="14" font-size="10" fill="#000" stroke="#000" stroke-width="0.2" text-anchor="start" textLength="32" lengthAdjust="spacingAndGlyphs">1.05808</text>
<text x="186" y="14" font-size="10" fill="#000" stroke="#000" stroke-width="0.2" text-anchor="start" textLength="32" lengthAdjust="spacingAndGlyphs">1.05838</text>
<g clip-path="url(#c1)">
<polyline points="3.0,354.0 5.0,359.7 6.0,359.0 7.0,359.1 9.0,357.6 11.0,356.5 13.0,352.6 15.0,353.1 15.8,352.9 17.0,355.3 19.0,360.3 19.4,361.4 21.0,361.4 23.0,363.1 24.2,363.8 25.0,363.0 27.0,361.6 29.0,364.2 31.0,363.8 31.5,362.6 33.0,363.3 35.0,359.2 36.4,357.7 37.0,357.6 39.0,359.0 41.0,359.2 41.2,361.4 43.0,364.0 45.0,362.8 46.0,365.0 47.0,362.7 49.0,362.6 51.0,361.4 53.0,366.3 55.0,367.7 55.8,368.6 57.0,365.5 59.0,362.9 60.6,361.4 61.0,361.6 63.0,357.6 65.0,353.8 65.5,354.0 67.0,354.1 69.0,355.9 70.3,355.3 71.0,357.9 73.0,353.7 75.0,354.5 75.2,355.3 77.0,352.9 79.0,349.3 80.0,351.7 81.0,349.2 83.0,346.6 84.8,345.6 85.0,347.2 87.0,347.0 89.0,346.6 89.7,349.2 91.0,349.1 93.0,346.3 94.5,345.6 95.0,344.3 97.0,350.5 99.0,349.2 101.0,348.7 101.8,349.2 103.0,345.4 105.0,342.1 106.7,338.3 107.0,335.8 109.0,341.4 111.0,346.2 111.5,345.6 113.0,347.1 115.0,347.9 116.4,346.8 117.0,348.4 119.0,349.4 121.0,346.5 121.2,348.0 123.0,347.3 125.0,341.8 126.0,343.2 127.0,342.2 129.0,340.0 131.0,342.0 133.0,344.4 135.0,345.7 135.8,344.4 137.0,343.8 139.0,345.9 140.6,343.2 141.0,341.8 143.0,340.5 145.0,338.1 146.7,335.9 147.0,335.2 149.0,341.9 150.3,344.4 151.0,346.7 153.0,342.4 155.0,343.2 157.0,345.9 159.0,346.0 159.8,346.8 161.0,350.3 163.0,350.6 164.7,351.7 165.0,352.6 167.0,352.9 169.0,352.7 171.0,350.9 172.0,352.9 173.0,353.9 175.0,348.8 176.8,349.2 177.0,349.4 179.0,349.3 181.0,346.7 183.0,347.3 184.0,346.8 185.0,349.1 187.0,349.0 189.0,350.5 191.0,347.3 193.0,342.6 193.8,345.6 195.0,345.2 197.0,347.2 198.6,349.2 199.0,349.2 201.0,351.9 202.3,355.3 203.0,354.0 205.0,347.5 206.0,345.6 207.0,346.9 209.0,350.7 209.5,350.5 211.0,349.2 213.0,349.6 215.0,352.5 217.0,350.5 218.0,349.2 219.0,347.5 220.5,349.2 221.0,349.7 223.0,353.1 225.0,356.5 225.3,355.3 227.0,354.7 229.0,352.8 230.2,352.9 231.0,351.5 233.0,352.3 235.0,350.8 237.0,348.7 237.4,349.2 239.0,349.0 241.0,348.7 242.3,349.2 243.0,350.7 245.0,350.4 247.0,353.5 247.1,352.9 249.0,351.6 251.0,348.7 252.0,346.8 253.0,346.2 255.0,350.0 256.8,349.2 257.0,348.3 259.0,349.2 261.0,347.2 261.7,348.0 263.0,344.9 265.0,346.1 267.0,344.9 269.0,343.2 271.0,342.6 273.0,342.6 273.8,342.0 275.0,340.4 277.0,339.1 279.0,338.6 279.8,338.3 281.0,343.5 283.0,346.7 283.5,346.8 285.0,351.2 287.0,359.3 287.1,358.9 289.0,361.3 291.0,364.5 293.0,369.4 293.2,368.6 295.0,368.8 297.0,368.3 298.0,371.0 299.0,369.3 301.0,369.6 302.9,368.6 303.0,368.5 305.0,365.3 306.5,360.2 307.0,358.7 309.0,358.5 310.0,356.5 311.0,356.5 313.0,354.7 314.8,354.0 315.0,354.8 317.0,351.9 319.0,347.7 319.7,348.0 321.0,348.1 323.0,343.2 325.0,342.9 327.0,340.8 329.0,342.8 331.0,345.4 331.8,345.6 333.0,343.5 335.0,342.4 336.7,340.8 337.0,341.1 339.0,346.1 341.0,347.3 341.5,349.2 343.0,347.2 345.0,344.0 347.0,339.9 347.6,340.8 349.0,346.1 351.0,345.2 351.2,345.6 353.0,342.8 355.0,345.5 356.0,343.2 357.0,341.2 359.0,341.9 361.0,341.3 362.1,339.5 363.0,333.3 363.3,332.3 365.0,333.8 367.0,336.1 368.2,338.3 369.0,338.7 371.0,338.3 373.0,342.0 375.0,342.4 377.0,345.8 379.0,349.3 380.3,349.2 381.0,348.0 383.0,343.5 384.0,338.3 385.0,341.6 387.0,344.7 387.6,346.8 389.0,346.6 391.0,344.2 393.0,345.6 394.8,346.8 395.0,345.5 397.0,347.7 399.0,348.7 399.7,348.0 401.0,348.3 403.0,349.8 404.5,351.7 405.0,350.1 407.0,353.6 409.0,355.7 411.0,357.6 411.8,357.7 413.0,357.3 415.0,361.9 417.0,361.9 419.0,361.2 421.0,361.7 421.5,362.6 423.0,361.9 425.0,362.2 427.0,361.7 428.8,361.4 429.0,362.1 431.0,363.1 433.0,364.6 435.0,364.9 436.1,363.8 437.0,362.7 439.0,361.4 441.0,358.3 443.0,356.0 443.3,356.5 445.0,357.3 447.0,352.2 449.0,353.4 450.6,349.2 451.0,348.7 453.0,349.5 455.0,350.6 455.5,349.2 457.0,354.3 459.0,361.6 459.1,361.4 461.0,364.9 462.7,368.6 463.0,368.0 465.0,368.6 467.0,368.2 469.0,371.4 471.0,369.3 473.0,372.0 473.5,369.8 475.0,360.8 477.0,356.9 477.1,356.5 479.0,358.4 481.0,358.5 483.0,361.5 483.2,360.2 485.0,359.6 487.0,356.7 489.0,356.0 489.2,355.3 491.0,362.5 491.7,360.2 493.0,359.2 495.0,357.2 495.3,356.5 497.0,355.9 499.0,356.7 501.0,354.8 501.4,356.5 503.0,355.1 505.0,354.0 507.0,353.2 508.6,346.8 509.0,348.3 511.0,348.2 513.0,349.3 513.5,348.0 515.0,349.4 517.0,346.4 517.1,345.6 519.0,345.0 521.0,340.2 522.0,337.1 523.0,337.6 525.0,340.1 526.8,338.3 527.0,335.6 529.0,342.0 529.2,343.2 531.0,341.2 532.9,338.3 533.0,337.1 535.0,338.1 536.5,338.3 537.0,336.5 539.0,332.6 540.2,331.1 541.0,337.4 542.6,339.5 543.0,340.2 545.0,338.8 547.0,340.1 547.4,338.3 549.0,336.4 551.0,335.9 552.3,333.5 553.0,337.1 554.7,344.4 555.0,347.0 557.0,346.1 559.0,351.9 559.5,351.7 561.0,351.1 563.0,348.4 564.4,349.2 565.0,348.9 567.0,340.9 569.0,338.6 569.2,335.9 571.0,336.9 573.0,337.4 575.0,337.0 576.5,337.1 577.0,338.4 579.0,335.1 581.0,337.9 583.0,337.4 583.8,338.3 585.0,339.9 587.0,341.5 588.6,343.2 589.0,344.1 591.0,342.9 593.0,347.0 595.0,348.3 595.9,345.6 597.0,345.1 599.0,345.0 601.0,345.0 602.0,344.4 603.0,346.0" fill="none" stroke="#ff0000" stroke-width="1" shape-rendering="crispEdges"/>
<polyline points="3.0,350.5 14.5,354.0 29.0,357.7 43.6,360.2 58.2,362.6 72.7,357.7 87.3,354.0 101.8,350.5 111.5,346.8 126.0,345.6 140.6,344.4 155.0,343.9 169.5,348.0 184.0,349.2 203.5,349.2 222.9,350.5 242.3,350.5 261.7,349.2 281.0,345.6 290.8,352.9 300.5,359.0 305.3,360.9 315.0,359.4 322.1,354.0 334.2,348.0 353.6,345.6 370.6,342.0 382.7,343.2 402.1,345.6 416.7,352.9 431.2,357.7 440.9,360.2 455.5,355.3 465.0,360.9 474.7,362.6 484.4,360.2 503.8,357.7 525.6,346.8 537.7,343.2 552.3,339.5 564.4,344.4 576.5,341.5 586.2,340.8 602.0,343.2" fill="none" stroke="#000080" stroke-width="1" shape-rendering="crispEdges"/>
</g>
<text x="8" y="328" font-size="10" fill="#000" stroke="#000" stroke-width="0.2" text-anchor="start" textLength="66.5" lengthAdjust="spacingAndGlyphs">RSI(14) 58.6189</text>
<text x="81.5" y="328" font-size="10" fill="#000" stroke="#000" stroke-width="0.2" text-anchor="start" textLength="76" lengthAdjust="spacingAndGlyphs">-&gt;MA(18) 61.7900</text>
<g clip-path="url(#c2)">
<polyline points="3.0,450.8 4.0,451.4 5.0,451.9 6.0,452.5 7.0,453.0 8.0,452.2 9.0,450.9 10.0,449.5 11.0,447.7 12.0,441.3 13.0,434.9 14.0,428.6 15.0,422.2 16.0,415.9 17.0,409.5 18.0,413.6 19.0,417.6 20.0,421.7 21.0,425.8 22.0,430.1 23.0,435.6 24.0,441.2 25.0,446.7 26.0,449.7 27.0,450.1 28.0,450.4 29.0,450.8 30.0,448.8 31.0,446.9 32.0,444.9 33.0,441.2 34.0,433.5 35.0,425.9 36.0,418.2 37.0,410.5 38.0,409.2 39.0,417.6 40.0,425.9 41.0,434.2 42.0,442.6 43.0,445.3 44.0,444.3 45.0,443.3 46.0,442.3 47.0,441.3 48.0,440.3 49.0,439.1 50.0,437.8 51.0,436.5 52.0,435.1 53.0,436.4 54.0,438.0 55.0,439.6 56.0,441.2 57.0,442.8 58.0,444.4 59.0,443.3 60.0,441.6 61.0,440.0 62.0,437.2 63.0,430.0 64.0,422.8 65.0,415.7 66.0,408.5 67.0,404.2 68.0,406.6 69.0,409.1 70.0,411.5 71.0,413.9 72.0,416.3 73.0,419.6 74.0,424.8 75.0,430.0 76.0,435.2 77.0,440.4 78.0,441.9 79.0,437.8 80.0,433.8 81.0,429.7 82.0,425.7 83.0,421.6 84.0,418.3 85.0,416.1 86.0,413.9 87.0,411.6 88.0,409.4 89.0,408.7 90.0,409.5 91.0,410.2 92.0,411.0 93.0,411.8 94.0,417.5 95.0,425.3 96.0,433.2 97.0,441.0 98.0,437.0 99.0,433.0 100.0,428.9 101.0,424.9 102.0,421.1 103.0,417.9 104.0,414.7 105.0,411.5 106.0,408.3 107.0,405.2 108.0,402.6 109.0,405.6 110.0,408.6 111.0,411.7 112.0,414.7 113.0,418.4 114.0,423.9 115.0,429.3 116.0,434.8 117.0,440.2 118.0,442.9 119.0,441.2 120.0,439.6 121.0,438.0 122.0,436.4 123.0,434.8 124.0,432.5 125.0,429.2 126.0,425.9 127.0,422.6 128.0,419.4 129.0,416.1 130.0,412.8 131.0,409.5 132.0,411.0 133.0,412.6 134.0,414.1 135.0,415.6 136.0,417.1 137.0,418.7 138.0,420.2 139.0,421.7 140.0,423.2 141.0,424.7 142.0,426.2 143.0,427.7 144.0,429.2 145.0,430.7 146.0,428.4 147.0,422.3 148.0,416.9 149.0,417.9 150.0,418.9 151.0,420.0 152.0,421.0 153.0,423.3 154.0,428.6 155.0,433.9 156.0,433.9 157.0,432.5 158.0,431.0 159.0,431.5 160.0,434.8 161.0,438.0 162.0,441.3 163.0,444.4 164.0,447.4 165.0,450.5 166.0,453.5 167.0,456.5 168.0,455.9 169.0,454.9 170.0,454.0 171.0,453.0 172.0,452.0 173.0,444.5 174.0,437.0 175.0,429.6 176.0,422.1 177.0,414.6 178.0,407.1 179.0,406.5 180.0,405.8 181.0,405.2 182.0,404.1 183.0,402.2 184.0,400.4 185.0,398.5 186.0,402.0 187.0,407.9 188.0,413.6 189.0,418.8 190.0,424.1 191.0,429.3 192.0,429.8 193.0,427.1 194.0,424.4 195.0,421.7 196.0,422.4 197.0,423.0 198.0,423.7 199.0,425.8 200.0,430.0 201.0,434.2 202.0,438.4 203.0,442.6 204.0,442.5 205.0,438.0 206.0,433.6 207.0,429.1 208.0,424.7 209.0,420.2 210.0,418.6 211.0,419.9 212.0,421.1 213.0,422.4 214.0,423.6 215.0,423.8 216.0,423.3 217.0,422.8 218.0,422.3 219.0,421.8 220.0,423.0 221.0,424.6 222.0,426.2 223.0,428.4 224.0,435.5 225.0,442.6 226.0,449.7 227.0,450.7 228.0,445.7 229.0,440.7 230.0,435.7 231.0,430.8 232.0,425.8 233.0,420.8 234.0,416.5 235.0,415.0 236.0,413.5 237.0,412.0 238.0,410.5 239.0,409.0 240.0,407.5 241.0,406.0 242.0,410.8 243.0,416.3 244.0,421.7 245.0,427.2 246.0,432.6 247.0,438.1 248.0,433.8 249.0,428.4 250.0,423.1 251.0,417.7 252.0,412.3 253.0,407.0 254.0,408.1 255.0,410.8 256.0,413.5 257.0,416.2 258.0,418.9 259.0,421.6 260.0,424.3 261.0,427.0 262.0,427.9 263.0,424.4 264.0,420.9 265.0,417.4 266.0,413.9 267.0,410.5 268.0,407.0 269.0,403.5 270.0,405.0 271.0,406.5 272.0,408.0 273.0,409.6 274.0,411.1 275.0,412.6 276.0,414.1 277.0,412.8 278.0,410.8 279.0,408.7 280.0,408.0 281.0,412.4 282.0,416.7 283.0,421.1 284.0,425.5 285.0,429.9 286.0,434.3 287.0,439.7 288.0,445.1 289.0,450.5 290.0,453.3 291.0,453.5 292.0,453.7 293.0,453.9 294.0,454.1 295.0,454.3 296.0,454.3 297.0,453.9 298.0,453.6 299.0,453.3 300.0,453.0 301.0,452.6 302.0,452.3 303.0,451.3 304.0,444.7 305.0,438.0 306.0,431.4 307.0,424.8 308.0,418.1 309.0,411.5 310.0,404.8 311.0,403.1 312.0,402.6 313.0,402.0 314.0,401.5 315.0,401.3 316.0,402.3 317.0,403.3 318.0,404.2 319.0,405.2 320.0,405.4 321.0,403.7 322.0,402.1 323.0,400.4 324.0,398.7 325.0,398.0 326.0,398.1 327.0,398.3 328.0,398.4 329.0,398.5 330.0,400.9 331.0,404.7 332.0,408.4 333.0,412.2 334.0,416.0 335.0,419.8 336.0,421.4 337.0,420.7 338.0,420.0 339.0,419.3 340.0,422.4 341.0,425.9 342.0,429.5 343.0,433.0 344.0,435.7 345.0,431.2 346.0,426.6 347.0,422.0 348.0,417.4 349.0,412.9 350.0,408.3 351.0,408.1 352.0,407.8 353.0,407.6 354.0,407.3 355.0,407.1 356.0,406.9 357.0,406.7 358.0,406.5 359.0,406.3 360.0,406.1 361.0,406.2 362.0,409.6 363.0,412.9 364.0,416.2 365.0,419.5 366.0,422.9 367.0,426.2 368.0,429.5 369.0,431.5 370.0,433.1 371.0,434.7 372.0,436.3 373.0,437.9 374.0,439.5 375.0,440.6 376.0,441.6 377.0,442.6 378.0,443.6 379.0,444.6 380.0,445.6 381.0,440.5 382.0,432.7 383.0,425.0 384.0,417.9 385.0,416.6 386.0,415.3 387.0,414.0 388.0,414.7 389.0,418.3 390.0,421.9 391.0,425.6 392.0,429.2 393.0,432.8 394.0,434.7 395.0,433.9 396.0,433.1 397.0,432.3 398.0,431.5 399.0,430.8 400.0,431.3 401.0,435.1 402.0,438.9 403.0,442.6 404.0,446.4 405.0,450.2 406.0,453.2 407.0,453.2 408.0,453.2 409.0,453.2 410.0,453.2 411.0,453.2 412.0,453.3 413.0,454.0 414.0,454.6 415.0,455.3 416.0,456.0 417.0,456.6 418.0,457.3 419.0,457.9 420.0,455.2 421.0,452.1 422.0,448.9 423.0,445.8 424.0,442.7 425.0,439.5 426.0,436.4 427.0,433.3 428.0,432.4 429.0,435.0 430.0,437.6 431.0,440.1 432.0,442.7 433.0,445.2 434.0,447.8 435.0,450.4 436.0,452.9 437.0,449.6 438.0,445.5 439.0,441.5 440.0,437.4 441.0,433.4 442.0,429.4 443.0,425.3 444.0,422.3 445.0,419.6 446.0,417.0 447.0,414.4 448.0,411.7 449.0,409.1 450.0,406.5 451.0,403.9 452.0,401.2 453.0,398.6 454.0,404.2 455.0,409.9 456.0,415.5 457.0,421.1 458.0,426.7 459.0,432.4 460.0,438.0 461.0,443.6 462.0,449.3 463.0,453.4 464.0,454.0 465.0,454.7 466.0,455.3 467.0,454.4 468.0,452.3 469.0,450.2 470.0,448.2 471.0,446.1 472.0,440.4 473.0,434.4 474.0,428.3 475.0,422.3 476.0,416.4 477.0,412.0 478.0,407.6 479.0,403.3 480.0,401.7 481.0,403.0 482.0,404.3 483.0,405.6 484.0,411.4 485.0,418.2 486.0,425.0 487.0,431.8 488.0,438.6 489.0,438.9 490.0,439.2 491.0,439.6 492.0,440.2 493.0,441.6 494.0,442.9 495.0,444.3 496.0,442.4 497.0,439.1 498.0,435.8 499.0,432.6 500.0,429.3 501.0,426.0 502.0,422.7 503.0,419.4 504.0,416.3 505.0,413.9 506.0,411.5 507.0,409.1 508.0,406.7 509.0,404.2 510.0,402.7 511.0,404.7 512.0,406.7 513.0,408.6 514.0,410.6 515.0,412.6 516.0,414.1 517.0,411.6 518.0,409.0 519.0,406.4 520.0,403.8 521.0,401.2 522.0,398.6 523.0,400.7 524.0,402.8 525.0,405.0 526.0,407.1 527.0,409.2 528.0,411.3 529.0,413.5 530.0,415.6 531.0,417.7 532.0,418.5 533.0,416.0 534.0,413.6 535.0,411.2 536.0,408.8 537.0,406.4 538.0,403.9 539.0,401.5 540.0,399.1 541.0,400.9 542.0,403.7 543.0,406.5 544.0,409.4 545.0,412.2 546.0,415.0 547.0,414.8 548.0,413.8 549.0,412.8 550.0,411.8 551.0,410.8 552.0,409.8 553.0,411.4 554.0,414.1 555.0,416.8 556.0,420.1 557.0,429.6 558.0,439.0 559.0,448.5 560.0,453.7 561.0,454.6 562.0,455.6 563.0,447.5 564.0,439.4 565.0,431.4 566.0,423.3 567.0,415.2 568.0,407.1 569.0,399.0 570.0,397.7 571.0,398.0 572.0,398.3 573.0,398.8 574.0,400.5 575.0,402.3 576.0,404.1 577.0,405.9 578.0,407.5 579.0,408.7 580.0,409.9 581.0,411.0 582.0,412.2 583.0,413.4 584.0,413.8 585.0,410.8 586.0,416.2 587.0,421.5 588.0,426.9 589.0,432.2 590.0,437.6 591.0,443.0 592.0,443.2 593.0,442.8 594.0,442.5 595.0,442.1 596.0,441.8 597.0,441.5 598.0,441.1 599.0,441.7 600.0,442.7 601.0,442.2 602.0,435.9 603.0,431.4" fill="none" stroke="#20b2aa" stroke-width="1" shape-rendering="crispEdges"/>
<polyline points="3.0,450.8 4.0,451.1 5.0,451.4 6.0,451.6 7.0,451.9 8.0,452.2 9.0,452.1 10.0,451.6 11.0,450.7 12.0,448.3 13.0,444.9 14.0,440.4 15.0,434.9 16.0,428.6 17.0,422.2 18.0,417.9 19.0,415.8 20.0,415.6 21.0,417.6 22.0,421.7 23.0,426.2 24.0,430.9 25.0,435.9 26.0,440.7 27.0,444.7 28.0,447.6 29.0,449.5 30.0,450.0 31.0,449.4 32.0,448.4 33.0,446.5 34.0,443.1 35.0,438.5 36.0,432.7 37.0,425.9 38.0,419.5 39.0,416.3 40.0,416.3 41.0,419.5 42.0,425.9 43.0,433.1 44.0,438.5 45.0,441.9 46.0,443.6 47.0,443.3 48.0,442.3 49.0,441.3 50.0,440.2 51.0,439.0 52.0,437.8 53.0,437.0 54.0,436.8 55.0,437.1 56.0,438.1 57.0,439.6 58.0,441.2 59.0,442.3 60.0,442.7 61.0,442.4 62.0,441.3 63.0,438.4 64.0,434.3 65.0,429.1 66.0,422.8 67.0,416.3 68.0,411.6 69.0,408.8 70.0,408.0 71.0,409.1 72.0,411.5 73.0,414.1 74.0,417.2 75.0,420.9 76.0,425.2 77.0,430.0 78.0,434.4 79.0,437.0 80.0,437.8 81.0,436.7 82.0,433.8 83.0,429.7 84.0,425.8 85.0,422.3 86.0,419.1 87.0,416.3 88.0,413.9 89.0,411.9 90.0,410.6 91.0,409.9 92.0,409.8 93.0,410.2 94.0,412.0 95.0,415.2 96.0,419.7 97.0,425.7 98.0,430.8 99.0,433.9 100.0,434.6 101.0,433.0 102.0,429.0 103.0,425.2 104.0,421.5 105.0,418.0 106.0,414.7 107.0,411.5 108.0,408.5 109.0,406.7 110.0,406.1 111.0,406.7 112.0,408.6 113.0,411.8 114.0,415.5 115.0,419.6 116.0,424.2 117.0,429.3 118.0,434.2 119.0,437.7 120.0,439.7 121.0,440.4 122.0,439.6 123.0,438.0 124.0,436.3 125.0,434.2 126.0,431.8 127.0,429.0 128.0,425.9 129.0,422.6 130.0,419.4 131.0,416.1 132.0,413.7 133.0,412.4 134.0,412.0 135.0,412.6 136.0,414.1 137.0,415.6 138.0,417.1 139.0,418.7 140.0,420.2 141.0,421.7 142.0,423.2 143.0,424.7 144.0,426.2 145.0,427.7 146.0,428.4 147.0,427.6 148.0,425.5 149.0,423.2 150.0,420.9 151.0,419.2 152.0,418.9 153.0,420.2 154.0,422.4 155.0,425.4 156.0,428.1 157.0,430.4 158.0,432.0 159.0,432.6 160.0,432.7 161.0,433.6 162.0,435.3 163.0,438.0 164.0,441.2 165.0,444.3 166.0,447.4 167.0,450.5 168.0,452.8 169.0,454.3 170.0,455.0 171.0,454.9 172.0,454.0 173.0,451.7 174.0,448.1 175.0,443.2 176.0,437.0 177.0,429.6 178.0,422.1 179.0,416.0 180.0,411.2 181.0,407.8 182.0,405.7 183.0,404.8 184.0,403.5 185.0,402.1 186.0,401.4 187.0,402.2 188.0,404.5 189.0,408.2 190.0,413.3 191.0,418.7 192.0,423.1 193.0,425.8 194.0,426.9 195.0,426.5 196.0,425.1 197.0,423.7 198.0,423.0 199.0,423.3 200.0,425.0 201.0,427.3 202.0,430.4 203.0,434.2 204.0,437.5 205.0,439.1 206.0,439.0 207.0,437.2 208.0,433.6 209.0,429.1 210.0,425.2 211.0,422.5 212.0,420.9 213.0,420.4 214.0,421.1 215.0,422.1 216.0,422.8 217.0,423.2 218.0,423.2 219.0,422.8 220.0,422.6 221.0,422.9 222.0,423.6 223.0,424.8 224.0,427.6 225.0,431.5 226.0,436.5 227.0,441.4 228.0,444.8 229.0,445.9 230.0,444.5 231.0,440.7 232.0,435.7 233.0,430.8 234.0,425.9 235.0,421.8 236.0,418.3 237.0,415.6 238.0,413.5 239.0,412.0 240.0,410.5 241.0,409.0 242.0,408.8 243.0,409.9 244.0,412.5 245.0,416.4 246.0,421.7 247.0,427.2 248.0,430.7 249.0,432.0 250.0,431.2 251.0,428.2 252.0,423.1 253.0,417.7 254.0,413.6 255.0,411.2 256.0,410.3 257.0,411.1 258.0,413.5 259.0,416.2 260.0,418.9 261.0,421.6 262.0,423.9 263.0,425.0 264.0,424.9 265.0,423.5 266.0,420.9 267.0,417.4 268.0,413.9 269.0,410.5 270.0,408.0 271.0,406.5 272.0,406.0 273.0,406.5 274.0,408.0 275.0,409.6 276.0,411.1 277.0,412.0 278.0,412.3 279.0,411.8 280.0,410.9 281.0,410.5 282.0,411.3 283.0,413.4 284.0,416.7 285.0,421.1 286.0,425.5 287.0,430.1 288.0,434.9 289.0,439.9 290.0,444.6 291.0,448.4 292.0,451.2 293.0,453.0 294.0,453.7 295.0,453.9 296.0,454.0 297.0,454.1 298.0,454.0 299.0,453.9 300.0,453.6 301.0,453.3 302.0,453.0 303.0,452.5 304.0,450.8 305.0,447.8 306.0,443.6 307.0,438.0 308.0,431.4 309.0,424.8 310.0,418.1 311.0,412.5 312.0,408.0 313.0,404.8 314.0,402.8 315.0,402.1 316.0,401.9 317.0,402.1 318.0,402.5 319.0,403.3 320.0,404.1 321.0,404.4 322.0,404.1 323.0,403.4 324.0,402.1 325.0,400.6 326.0,399.5 327.0,398.7 328.0,398.3 329.0,398.3 330.0,398.8 331.0,400.1 332.0,402.2 333.0,405.0 334.0,408.4 335.0,412.2 336.0,415.6 337.0,418.0 338.0,419.6 339.0,420.2 340.0,420.7 341.0,421.6 342.0,423.4 343.0,426.0 344.0,429.3 345.0,431.1 346.0,431.2 347.0,429.7 348.0,426.6 349.0,422.0 350.0,417.4 351.0,413.7 352.0,410.9 353.0,408.9 354.0,407.8 355.0,407.6 356.0,407.3 357.0,407.1 358.0,406.9 359.0,406.7 360.0,406.5 361.0,406.3 362.0,406.9 363.0,408.2 364.0,410.2 365.0,412.9 366.0,416.2 367.0,419.5 368.0,422.9 369.0,425.9 370.0,428.6 371.0,431.0 372.0,433.0 373.0,434.7 374.0,436.3 375.0,437.8 376.0,439.2 377.0,440.4 378.0,441.6 379.0,442.6 380.0,443.6 381.0,443.4 382.0,441.4 383.0,437.7 384.0,432.3 385.0,426.5 386.0,421.5 387.0,417.7 388.0,415.7 389.0,415.8 390.0,416.8 391.0,418.9 392.0,421.9 393.0,425.6 394.0,428.8 395.0,431.2 396.0,432.7 397.0,433.4 398.0,433.1 399.0,432.3 400.0,431.8 401.0,432.2 402.0,433.5 403.0,435.7 404.0,438.9 405.0,442.6 406.0,446.3 407.0,449.1 408.0,451.2 409.0,452.6 410.0,453.2 411.0,453.2 412.0,453.2 413.0,453.4 414.0,453.7 415.0,454.1 416.0,454.6 417.0,455.3 418.0,456.0 419.0,456.6 420.0,456.6 421.0,455.8 422.0,454.3 423.0,452.0 424.0,448.9 425.0,445.8 426.0,442.7 427.0,439.5 428.0,436.9 429.0,435.3 430.0,434.9 431.0,435.7 432.0,437.6 433.0,440.1 434.0,442.7 435.0,445.2 436.0,447.8 437.0,449.2 438.0,449.2 439.0,448.0 440.0,445.4 441.0,441.5 442.0,437.4 443.0,433.4 444.0,429.6 445.0,426.0 446.0,422.7 447.0,419.7 448.0,417.0 449.0,414.4 450.0,411.7 451.0,409.1 452.0,406.5 453.0,403.9 454.0,402.9 455.0,403.6 456.0,405.9 457.0,409.9 458.0,415.5 459.0,421.1 460.0,426.7 461.0,432.4 462.0,438.0 463.0,443.3 464.0,447.7 465.0,451.0 466.0,453.3 467.0,454.4 468.0,454.1 469.0,453.4 470.0,452.1 471.0,450.2 472.0,447.5 473.0,443.9 474.0,439.5 475.0,434.3 476.0,428.4 477.0,422.7 478.0,417.3 479.0,412.3 480.0,408.2 481.0,405.5 482.0,404.0 483.0,403.6 484.0,405.2 485.0,408.5 486.0,412.9 487.0,418.4 488.0,425.0 489.0,430.5 490.0,434.7 491.0,437.6 492.0,439.3 493.0,439.9 494.0,440.7 495.0,441.7 496.0,442.3 497.0,442.1 498.0,440.9 499.0,438.8 500.0,435.8 501.0,432.6 502.0,429.3 503.0,426.0 504.0,422.7 505.0,419.7 506.0,416.8 507.0,414.0 508.0,411.5 509.0,409.1 510.0,406.8 511.0,405.5 512.0,405.0 513.0,405.4 514.0,406.7 515.0,408.6 516.0,410.5 517.0,411.5 518.0,411.6 519.0,410.7 520.0,409.0 521.0,406.4 522.0,403.8 523.0,402.1 524.0,401.4 525.0,401.7 526.0,402.8 527.0,405.0 528.0,407.1 529.0,409.2 530.0,411.3 531.0,413.5 532.0,415.3 533.0,416.3 534.0,416.3 535.0,415.4 536.0,413.6 537.0,411.2 538.0,408.8 539.0,406.4 540.0,403.9 541.0,402.3 542.0,401.8 543.0,402.3 544.0,403.9 545.0,406.5 546.0,409.4 547.0,411.6 548.0,413.0 549.0,413.7 550.0,413.6 551.0,412.8 552.0,411.8 553.0,411.3 554.0,411.6 555.0,412.6 556.0,414.4 557.0,418.4 558.0,423.9 559.0,430.8 560.0,438.2 561.0,445.1 562.0,450.3 563.0,452.0 564.0,450.2 565.0,445.7 566.0,439.4 567.0,431.4 568.0,423.3 569.0,415.2 570.0,408.4 571.0,403.4 572.0,400.0 573.0,398.3 574.0,398.7 575.0,399.6 576.0,400.8 577.0,402.3 578.0,404.1 579.0,405.7 580.0,407.2 581.0,408.6 582.0,409.9 583.0,411.0 584.0,412.1 585.0,412.3 586.0,413.3 587.0,415.1 588.0,417.8 589.0,421.5 590.0,426.9 591.0,432.2 592.0,436.6 593.0,439.8 594.0,441.8 595.0,442.7 596.0,442.5 597.0,442.1 598.0,441.8 599.0,441.6 600.0,441.8 601.0,441.8 602.0,440.7 603.0,438.8" fill="none" stroke="#ff0000" stroke-width="1.2" shape-rendering="crispEdges" stroke-dasharray="3 3"/>
</g>
<text x="8" y="402" font-size="10" fill="#000" stroke="#000" stroke-width="0.2" text-anchor="start" textLength="121" lengthAdjust="spacingAndGlyphs">Stoch(5,3,3) 40.0668 34.0197</text>
<g clip-path="url(#c3)">
<path d="M3.5,505V506 M5.5,505V506 M7.5,505V506 M9.5,505V507 M11.5,505V508 M13.5,505V508 M15.5,505V509 M17.5,505V510 M19.5,505V511 M21.5,505V512 M23.5,505V513 M25.5,505V514 M27.5,505V515 M29.5,505V517 M31.5,505V518 M33.5,505V518 M35.5,505V518 M37.5,505V519 M39.5,505V519 M41.5,505V519 M43.5,505V519 M45.5,505V520 M47.5,505V520 M49.5,505V520 M51.5,505V521 M53.5,505V521 M55.5,505V522 M57.5,505V522 M59.5,505V522 M61.5,505V522 M63.5,505V522 M65.5,505V521 M67.5,505V520 M69.5,505V519 M71.5,505V518 M73.5,505V517 M75.5,505V515 M77.5,505V514 M79.5,505V513 M81.5,505V511 M83.5,505V510 M85.5,505V509 M87.5,505V507 M89.5,505V506 M91.5,505V506 M93.5,506V504 M95.5,506V504 M97.5,506V503 M99.5,506V502 M101.5,506V501 M103.5,506V499 M105.5,506V498 M107.5,506V497 M109.5,506V497 M111.5,506V497 M113.5,506V496 M115.5,506V496 M117.5,506V496 M119.5,506V496 M121.5,506V496 M123.5,506V496 M125.5,506V496 M127.5,506V496 M129.5,506V496 M131.5,506V496 M133.5,506V496 M135.5,506V496 M137.5,506V496 M139.5,506V496 M141.5,506V496 M143.5,506V496 M145.5,506V496 M147.5,506V496 M149.5,506V495 M151.5,506V495 M153.5,506V495 M155.5,506V495 M157.5,506V495 M159.5,506V495 M161.5,506V495 M163.5,506V497 M165.5,506V499 M167.5,506V501 M169.5,506V502 M171.5,506V502 M173.5,506V502 M175.5,506V502 M177.5,506V502 M179.5,506V502 M181.5,506V502 M183.5,506V502 M185.5,506V502 M187.5,506V502 M189.5,506V502 M191.5,506V502 M193.5,506V502 M195.5,506V502 M197.5,506V502 M199.5,506V502 M201.5,506V502 M203.5,506V502 M205.5,506V502 M207.5,506V502 M209.5,506V502 M211.5,506V502 M213.5,506V502 M215.5,506V502 M217.5,506V502 M219.5,506V502 M221.5,506V502 M223.5,506V502 M225.5,506V502 M227.5,506V502 M229.5,506V503 M231.5,506V503 M233.5,506V504 M235.5,506V504 M237.5,506V504 M239.5,506V504 M241.5,506V504 M243.5,506V504 M245.5,506V504 M247.5,506V504 M249.5,506V504 M251.5,506V504 M253.5,506V504 M255.5,506V503 M257.5,506V503 M259.5,506V502 M261.5,506V502 M263.5,506V501 M265.5,506V501 M267.5,506V501 M269.5,506V500 M271.5,506V500 M273.5,506V500 M275.5,506V499 M277.5,506V499 M279.5,506V498 M281.5,506V498 M283.5,506V498 M285.5,506V498 M287.5,506V499 M289.5,506V500 M291.5,506V503 M293.5,505V506 M295.5,505V509 M297.5,505V512 M299.5,505V515 M301.5,505V518 M303.5,505V522 M305.5,505V523 M307.5,505V523 M309.5,505V522 M311.5,505V522 M313.5,505V522 M315.5,505V521 M317.5,505V519 M319.5,505V517 M321.5,505V516 M323.5,505V508 M325.5,506V504 M327.5,506V502 M329.5,506V500 M331.5,506V499 M333.5,506V498 M335.5,506V496 M337.5,506V495 M339.5,506V495 M341.5,506V495 M343.5,506V495 M345.5,506V494 M347.5,506V494 M349.5,506V493 M351.5,506V492 M353.5,506V491 M355.5,506V490 M357.5,506V489 M359.5,506V487 M361.5,506V485 M363.5,506V483 M365.5,506V481 M367.5,506V479 M369.5,506V477 M371.5,506V477 M373.5,506V477 M375.5,506V477 M377.5,506V478 M379.5,506V480 M381.5,506V482 M383.5,506V483 M385.5,506V482 M387.5,506V480 M389.5,506V479 M391.5,506V480 M393.5,506V481 M395.5,506V482 M397.5,506V483 M399.5,506V485 M401.5,506V486 M403.5,506V489 M405.5,506V492 M407.5,506V494 M409.5,506V498 M411.5,506V502 M413.5,505V506 M415.5,505V508 M417.5,505V509 M419.5,505V511 M421.5,505V513 M423.5,505V514 M425.5,505V515 M427.5,505V517 M429.5,505V517 M431.5,505V518 M433.5,505V519 M435.5,505V520 M437.5,505V520 M439.5,505V521 M441.5,505V521 M443.5,505V521 M445.5,505V521 M447.5,505V518 M449.5,505V515 M451.5,505V513 M453.5,505V514 M455.5,505V515 M457.5,505V516 M459.5,505V518 M461.5,505V520 M463.5,505V523 M465.5,505V525 M467.5,505V527 M469.5,505V529 M471.5,505V531 M473.5,505V533 M475.5,505V533 M477.5,505V533 M479.5,505V532 M481.5,505V532 M483.5,505V531 M485.5,505V530 M487.5,505V529 M489.5,505V528 M491.5,505V527 M493.5,505V526 M495.5,505V525 M497.5,505V523 M499.5,505V522 M501.5,505V521 M503.5,505V519 M505.5,505V517 M507.5,505V515 M509.5,505V513 M511.5,505V511 M513.5,505V509 M515.5,505V508 M517.5,505V507 M519.5,505V506 M521.5,506V500 M523.5,506V495 M525.5,506V494 M527.5,506V493 M529.5,506V491 M531.5,506V490 M533.5,506V488 M535.5,506V486 M537.5,506V484 M539.5,506V482 M541.5,506V480 M543.5,506V479 M545.5,506V478 M547.5,506V477 M549.5,506V476 M551.5,506V474 M553.5,506V472 M555.5,506V475 M557.5,506V478 M559.5,506V482 M561.5,506V485 M563.5,506V488 M565.5,506V487 M567.5,506V486 M569.5,506V485 M571.5,506V480 M573.5,506V476 M575.5,506V473 M577.5,506V472 M579.5,506V471 M581.5,506V470 M583.5,506V470 M585.5,506V470 M587.5,506V470 M589.5,506V470 M591.5,506V472 M593.5,506V475 M595.5,506V477 M597.5,506V480 M599.5,506V482 M601.5,506V484 M603.5,506V487" stroke="#c0c0c0" stroke-width="1" fill="none"/>
<line x1="3" y1="505.5" x2="605" y2="505.5" stroke="#c0c0c0" stroke-width="1"/>
<polyline points="3.0,501.1 10.6,502.3 16.4,505.4 22.3,509.3 28.2,512.9 35.2,516.4 42.3,518.0 51.6,519.2 61.0,521.8 70.4,520.0 77.5,516.4 84.5,511.7 93.9,505.8 103.3,503.0 112.7,499.2 122.0,496.4 136.2,496.0 150.0,495.3 164.0,496.4 171.0,497.6 180.5,501.6 192.3,502.3 220.4,502.3 227.5,502.8 234.5,504.6 243.9,504.6 253.3,503.5 267.4,501.1 281.5,499.2 290.8,500.0 295.5,503.5 300.0,512.0 307.0,520.2 314.1,522.0 323.5,516.6 332.9,506.1 342.3,497.9 354.0,493.2 363.4,488.5 370.4,483.8 377.5,479.1 386.9,477.9 396.2,480.3 403.3,482.6 410.3,488.5 417.4,500.2 424.4,509.6 433.8,519.0 443.2,522.0 455.0,518.5 460.3,515.3 465.5,517.8 475.8,529.4 483.5,532.0 493.8,525.6 509.3,516.5 522.2,506.2 535.1,494.6 548.0,483.0 558.2,475.3 568.6,480.5 576.3,480.5 586.6,470.2 594.3,471.4 602.1,477.9" fill="none" stroke="#ff0000" stroke-width="1.2" shape-rendering="crispEdges" stroke-dasharray="3 3"/>
</g>
<text x="8" y="476" font-size="10" fill="#000" stroke="#000" stroke-width="0.2" text-anchor="start" textLength="147" lengthAdjust="spacingAndGlyphs">MACD(12,26,9) 0.001599 0.002244</text>
<path d="M2.5,2.5H617.5V313.5H2.5Z M2.5,315.5H617.5V387.5H2.5Z M2.5,389.5H617.5V461.5H2.5Z M2.5,463.5H617.5V539.5H2.5Z" stroke="#000" stroke-width="1" fill="none"/>
<text x="623" y="17" font-size="10" fill="#000" stroke="#000" stroke-width="0.2" text-anchor="start" textLength="32" lengthAdjust="spacingAndGlyphs">1.07910</text>
<text x="623" y="50" font-size="10" fill="#000" stroke="#000" stroke-width="0.2" text-anchor="start" textLength="32" lengthAdjust="spacingAndGlyphs">1.07265</text>
<text x="623" y="83" font-size="10" fill="#000" stroke="#000" stroke-width="0.2" text-anchor="start" textLength="32" lengthAdjust="spacingAndGlyphs">1.06620</text>
<text x="623" y="116" font-size="10" fill="#000" stroke="#000" stroke-width="0.2" text-anchor="start" textLength="32" lengthAdjust="spacingAndGlyphs">1.05975</text>
<text x="623" y="149" font-size="10" fill="#000" stroke="#000" stroke-width="0.2" text-anchor="start" textLength="32" lengthAdjust="spacingAndGlyphs">1.05345</text>
<text x="623" y="182" font-size="10" fill="#000" stroke="#000" stroke-width="0.2" text-anchor="start" textLength="32" lengthAdjust="spacingAndGlyphs">1.04700</text>
<text x="623" y="215" font-size="10" fill="#000" stroke="#000" stroke-width="0.2" text-anchor="start" textLength="32" lengthAdjust="spacingAndGlyphs">1.04055</text>
<text x="623" y="248" font-size="10" fill="#000" stroke="#000" stroke-width="0.2" text-anchor="start" textLength="32" lengthAdjust="spacingAndGlyphs">1.03425</text>
<text x="623" y="281" font-size="10" fill="#000" stroke="#000" stroke-width="0.2" text-anchor="start" textLength="32" lengthAdjust="spacingAndGlyphs">1.02780</text>
<text x="623" y="314" font-size="10" fill="#000" stroke="#000" stroke-width="0.2" text-anchor="start" textLength="32" lengthAdjust="spacingAndGlyphs">1.02135</text>
<path d="M618,13.5H620 M618,46.5H620 M618,79.5H620 M618,112.5H620 M618,145.5H620 M618,178.5H620 M618,211.5H620 M618,244.5H620 M618,277.5H620 M618,310.5H620 M618,317.5H619.5 M618,337.5H619.5 M618,365.5H619.5 M618,386.5H619.5 M618,391.5H619.5 M618,404.5H619.5 M618,446.5H619.5 M618,460.5H619.5 M618,505.5H619.5 M3.5,540V543 M67.5,540V543 M131.5,540V543 M195.5,540V543 M259.5,540V543 M323.5,540V543 M387.5,540V543 M451.5,540V543 M515.5,540V543 M579.5,540V543" stroke="#000" stroke-width="1" fill="none"/>
<rect x="619" y="54" width="41" height="11" fill="#ff0000"/>
<text x="623" y="63" font-size="10" fill="#fff" stroke="#fff" stroke-width="0.2" text-anchor="start" textLength="32" lengthAdjust="spacingAndGlyphs">1.07000</text>
<rect x="619" y="79" width="41" height="11" fill="#ff0000"/>
<text x="623" y="88" font-size="10" fill="#fff" stroke="#fff" stroke-width="0.2" text-anchor="start" textLength="32" lengthAdjust="spacingAndGlyphs">1.06500</text>
<rect x="619" y="114" width="41" height="11" fill="#000000"/>
<text x="623" y="123" font-size="10" fill="#fff" stroke="#fff" stroke-width="0.2" text-anchor="start" textLength="32" lengthAdjust="spacingAndGlyphs">1.05838</text>
<rect x="619" y="123" width="41" height="11" fill="#008000"/>
<text x="623" y="132" font-size="10" fill="#fff" stroke="#fff" stroke-width="0.2" text-anchor="start" textLength="32" lengthAdjust="spacingAndGlyphs">1.05650</text>
<rect x="619" y="148" width="41" height="11" fill="#008000"/>
<text x="623" y="157" font-size="10" fill="#fff" stroke="#fff" stroke-width="0.2" text-anchor="start" textLength="32" lengthAdjust="spacingAndGlyphs">1.05176</text>
<rect x="619" y="182" width="41" height="11" fill="#008000"/>
<text x="623" y="191" font-size="10" fill="#fff" stroke="#fff" stroke-width="0.2" text-anchor="start" textLength="32" lengthAdjust="spacingAndGlyphs">1.04500</text>
<text x="621" y="326" font-size="9.5" fill="#000" stroke="#000" stroke-width="0.2" text-anchor="start" textLength="15" lengthAdjust="spacingAndGlyphs">100</text>
<text x="621" y="341" font-size="9.5" fill="#000" stroke="#000" stroke-width="0.2" text-anchor="start" textLength="10" lengthAdjust="spacingAndGlyphs">70</text>
<text x="621" y="369" font-size="9.5" fill="#000" stroke="#000" stroke-width="0.2" text-anchor="start" textLength="10" lengthAdjust="spacingAndGlyphs">30</text>
<text x="621" y="384" font-size="9.5" fill="#000" stroke="#000" stroke-width="0.2" text-anchor="start" textLength="5" lengthAdjust="spacingAndGlyphs">0</text>
<text x="621" y="400" font-size="9.5" fill="#000" stroke="#000" stroke-width="0.2" text-anchor="start" textLength="15" lengthAdjust="spacingAndGlyphs">100</text>
<text x="621" y="408" font-size="9.5" fill="#000" stroke="#000" stroke-width="0.2" text-anchor="start" textLength="10" lengthAdjust="spacingAndGlyphs">80</text>
<text x="621" y="450" font-size="9.5" fill="#000" stroke="#000" stroke-width="0.2" text-anchor="start" textLength="10" lengthAdjust="spacingAndGlyphs">20</text>
<text x="621" y="458" font-size="9.5" fill="#000" stroke="#000" stroke-width="0.2" text-anchor="start" textLength="5" lengthAdjust="spacingAndGlyphs">0</text>
<text x="621" y="474" font-size="9.5" fill="#000" stroke="#000" stroke-width="0.2" text-anchor="start" textLength="37" lengthAdjust="spacingAndGlyphs">0.003502</text>
<text x="621" y="509" font-size="9.5" fill="#000" stroke="#000" stroke-width="0.2" text-anchor="start" textLength="19" lengthAdjust="spacingAndGlyphs">0.00</text>
<text x="621" y="536" font-size="9.5" fill="#000" stroke="#000" stroke-width="0.2" text-anchor="start" textLength="42" lengthAdjust="spacingAndGlyphs">-0.002938</text>
<text x="3" y="552" font-size="10" fill="#000" stroke="#000" stroke-width="0.2" text-anchor="start" textLength="51" lengthAdjust="spacingAndGlyphs">19 Dec 2016</text>
<text x="67" y="552" font-size="10" fill="#000" stroke="#000" stroke-width="0.2" text-anchor="start" textLength="54" lengthAdjust="spacingAndGlyphs">20 Dec 18:00</text>
<text x="131" y="552" font-size="10" fill="#000" stroke="#000" stroke-width="0.2" text-anchor="start" textLength="54" lengthAdjust="spacingAndGlyphs">22 Dec 02:00</text>
<text x="195" y="552" font-size="10" fill="#000" stroke="#000" stroke-width="0.2" text-anchor="start" textLength="54" lengthAdjust="spacingAndGlyphs">23 Dec 10:00</text>
<text x="259" y="552" font-size="10" fill="#000" stroke="#000" stroke-width="0.2" text-anchor="start" textLength="54" lengthAdjust="spacingAndGlyphs">27 Dec 19:00</text>
<text x="323" y="552" font-size="10" fill="#000" stroke="#000" stroke-width="0.2" text-anchor="start" textLength="54" lengthAdjust="spacingAndGlyphs">29 Dec 03:00</text>
<text x="387" y="552" font-size="10" fill="#000" stroke="#000" stroke-width="0.2" text-anchor="start" textLength="54" lengthAdjust="spacingAndGlyphs">30 Dec 11:00</text>
<text x="451" y="552" font-size="10" fill="#000" stroke="#000" stroke-width="0.2" text-anchor="start" textLength="47" lengthAdjust="spacingAndGlyphs">3 Jan 04:00</text>
<text x="515" y="552" font-size="10" fill="#000" stroke="#000" stroke-width="0.2" text-anchor="start" textLength="47" lengthAdjust="spacingAndGlyphs">4 Jan 12:00</text>
<text x="579" y="552" font-size="10" fill="#000" stroke="#000" stroke-width="0.2" text-anchor="start" textLength="47" lengthAdjust="spacingAndGlyphs">5 Jan 20:00</text>
</svg></body></html>
